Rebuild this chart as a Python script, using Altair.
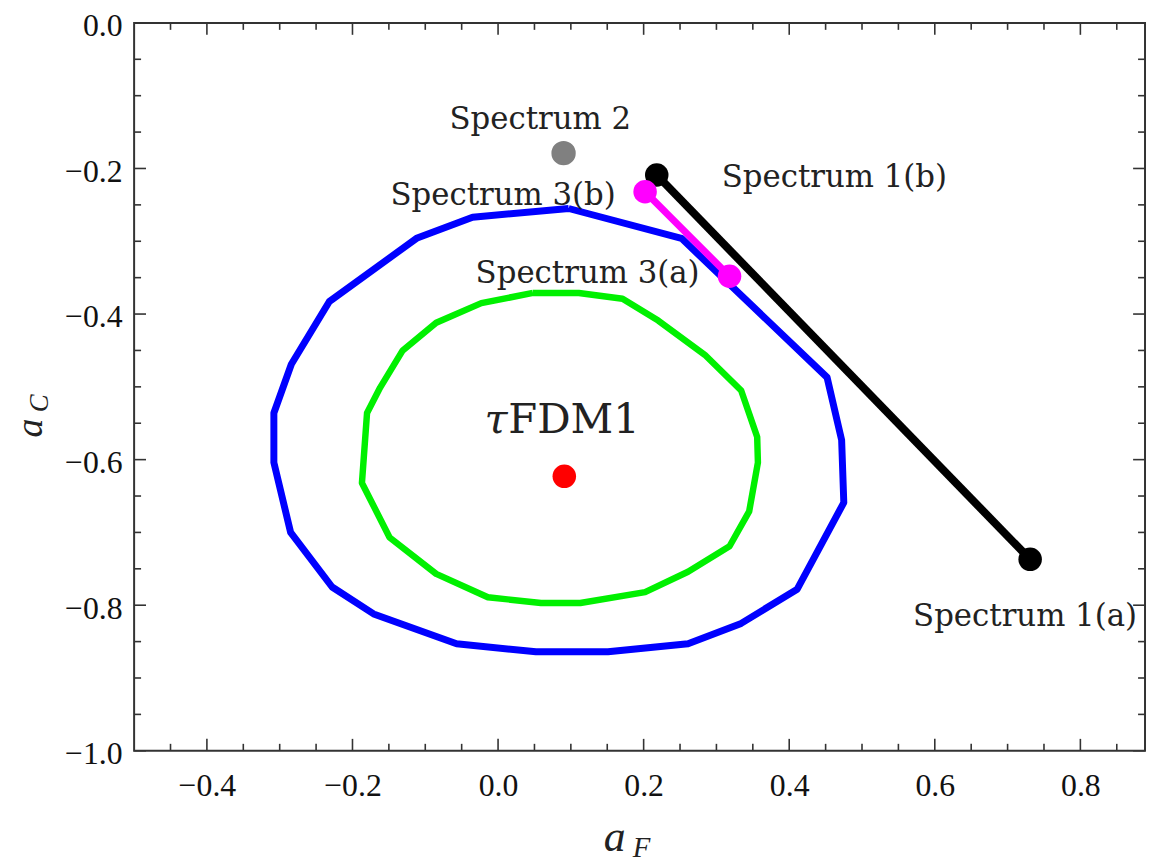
import altair as alt
import pandas as pd

# ---- data ----
blue_x = [0.097, 0.252, 0.452, 0.472, 0.475, 0.411, 0.334, 0.261, 0.151, 0.052,
          -0.057, -0.171, -0.228, -0.285, -0.308, -0.308, -0.284, -0.232, -0.112, -0.035]
blue_y = [-0.255, -0.296, -0.487, -0.573, -0.659, -0.778, -0.825, -0.853, -0.864, -0.864,
          -0.853, -0.812, -0.775, -0.700, -0.604, -0.536, -0.469, -0.383, -0.296, -0.267]

green_x = [0.048, 0.111, 0.171, 0.220, 0.284, 0.334, 0.356, 0.357, 0.345, 0.318, 0.261, 0.202,
           0.113, 0.059, -0.014, -0.085, -0.149, -0.187, -0.180, -0.162, -0.131, -0.085, -0.023]
green_y = [-0.371, -0.371, -0.379, -0.409, -0.456, -0.505, -0.569, -0.604, -0.671, -0.719, -0.754,
           -0.782, -0.797, -0.797, -0.789, -0.757, -0.707, -0.632, -0.536, -0.501, -0.450, -0.412, -0.385]

spec1_x = [0.218, 0.731]
spec1_y = [-0.209, -0.737]
spec3_x = [0.202, 0.318]
spec3_y = [-0.232, -0.348]
spec2_x = [0.090]
spec2_y = [-0.179]
fdm_x = [0.091]
fdm_y = [-0.623]

label_text = ["Spectrum 2", "Spectrum 3(b)", "Spectrum 3(a)", "Spectrum 1(b)", "Spectrum 1(a)"]
label_x = [0.058, 0.007, 0.123, 0.462, 0.724]
label_y = [-0.146, -0.250, -0.357, -0.226, -0.829]

x_major = [-0.4, -0.2, 0.0, 0.2, 0.4, 0.6, 0.8]
y_major = [0.0, -0.2, -0.4, -0.6, -0.8, -1.0]
x_minor = [-0.45, -0.35, -0.3, -0.25, -0.15, -0.1, -0.05, 0.05, 0.1, 0.15, 0.25, 0.3, 0.35,
           0.45, 0.5, 0.55, 0.65, 0.7, 0.75, 0.85]
y_minor = [-0.05, -0.1, -0.15, -0.25, -0.3, -0.35, -0.45, -0.5, -0.55, -0.65, -0.7, -0.75,
           -0.85, -0.9, -0.95]

# ---- layout ----
W, H = 1018, 733
MAJ, MIN = 12, 7
TICK_COLOR = "#333333"

xs = alt.Scale(domain=[-0.5, 0.8888], nice=False, zero=False)
ys = alt.Scale(domain=[-1.0, 0.0], nice=False, zero=False)
xaxis = alt.Axis(values=x_major, format=".1f", title=None, grid=False, ticks=False,
                 tickSize=0, domain=False, labelPadding=20)
yaxis = alt.Axis(values=y_major, format=".1f", title=None, grid=False, ticks=False,
                 tickSize=0, domain=False, labelPadding=12, labelOffset=3)


def X(f="x"):
    return alt.X(f + ":Q", scale=xs, axis=xaxis)


def Y(f="y"):
    return alt.Y(f + ":Q", scale=ys, axis=yaxis)


def loop(xv, yv):
    xx = list(xv) + [xv[0]]
    yy = list(yv) + [yv[0]]
    return pd.DataFrame({"x": xx, "y": yy, "i": list(range(len(xx)))})


blue = alt.Chart(loop(blue_x, blue_y)).mark_line(color="#0000ff", strokeWidth=7, strokeJoin="round").encode(
    x=X(), y=Y(), order="i:Q")
green = alt.Chart(loop(green_x, green_y)).mark_line(color="#00f000", strokeWidth=6.5, strokeJoin="round").encode(
    x=X(), y=Y(), order="i:Q")

s1 = pd.DataFrame({"x": spec1_x, "y": spec1_y, "i": [0, 1]})
s3 = pd.DataFrame({"x": spec3_x, "y": spec3_y, "i": [0, 1]})
s2 = pd.DataFrame({"x": spec2_x, "y": spec2_y})
fd = pd.DataFrame({"x": fdm_x, "y": fdm_y})

s1_line = alt.Chart(s1).mark_line(color="black", strokeWidth=8).encode(x=X(), y=Y(), order="i:Q")
s1_pts = alt.Chart(s1).mark_circle(color="black", size=560, opacity=1).encode(x=X(), y=Y())
s3_line = alt.Chart(s3).mark_line(color="#ff00ff", strokeWidth=7).encode(x=X(), y=Y(), order="i:Q")
s3_pts = alt.Chart(s3).mark_circle(color="#ff00ff", size=560, opacity=1).encode(x=X(), y=Y())
s2_pt = alt.Chart(s2).mark_circle(color="#808080", size=600, opacity=1).encode(x=X(), y=Y())
fd_pt = alt.Chart(fd).mark_circle(color="#ff0000", size=560, opacity=1).encode(x=X(), y=Y())

labels = alt.Chart(pd.DataFrame({"t": label_text, "x": label_x, "y": label_y})).mark_text(
    font="DejaVu Serif", fontSize=31, color="#222222", align="center", baseline="alphabetic"
).encode(x=X(), y=Y(), text="t:N")

tau_label = alt.Chart(pd.DataFrame({"t": ["τ"], "x": [0.013], "y": [-0.563]})).mark_text(
    font="DejaVu Serif", fontSize=42, fontStyle="italic", color="#222222", align="right",
    baseline="alphabetic"
).encode(x=X(), y=Y(), text="t:N")
fdm_label = alt.Chart(pd.DataFrame({"t": ["FDM1"], "x": [0.014], "y": [-0.563]})).mark_text(
    font="DejaVu Serif", fontSize=42, color="#222222", align="left", baseline="alphabetic"
).encode(x=X(), y=Y(), text="t:N")

# ---- inward ticks on all four sides ----
def xticks(vals, length):
    d = pd.DataFrame({"x": vals})
    bot = alt.Chart(d).mark_rule(color=TICK_COLOR, strokeWidth=1.6).encode(
        x=X(), y=alt.value(H), y2=alt.value(H - length))
    top = alt.Chart(d).mark_rule(color=TICK_COLOR, strokeWidth=1.6).encode(
        x=X(), y=alt.value(0), y2=alt.value(length))
    return [bot, top]


def yticks(vals, length):
    d = pd.DataFrame({"y": vals})
    left = alt.Chart(d).mark_rule(color=TICK_COLOR, strokeWidth=1.6).encode(
        y=Y(), x=alt.value(0), x2=alt.value(length))
    right = alt.Chart(d).mark_rule(color=TICK_COLOR, strokeWidth=1.6).encode(
        y=Y(), x=alt.value(W), x2=alt.value(W - length))
    return [left, right]


ticks = xticks(x_major, MAJ) + xticks(x_minor, MIN) + yticks(y_major, MAJ) + yticks(y_minor, MIN)

# ---- axis titles (italic a with subscript) ----
def txt(s, x, y, size, style="italic", angle=0, baseline="alphabetic"):
    return alt.Chart(pd.DataFrame({"t": [s]})).mark_text(
        font="Liberation Serif", fontSize=size, fontStyle=style, color="#222222",
        align="center", baseline=baseline, angle=angle
    ).encode(x=alt.value(x), y=alt.value(y), text="t:N")


titles = [
    txt("a", 484, 834, 44),
    txt("F", 511, 840, 29),
    txt("a", -104, 408, 38, angle=270, baseline="middle"),
    txt("C", -95, 383, 27, angle=270, baseline="middle"),
]

chart = alt.layer(
    blue, green, s1_line, s3_line, s1_pts, s3_pts, s2_pt, fd_pt, labels, tau_label, fdm_label,
    *ticks, *titles
).properties(
    width=W, height=H,
    autosize=alt.AutoSizeParams(type="none"),
    padding={"left": 127, "top": 12, "right": 2, "bottom": 110},
).configure_view(
    stroke="#333333", strokeWidth=2
).configure_axis(
    labelFont="Liberation Serif", labelFontSize=32, labelColor="#111111"
)

chart.save("out.html", embed_options={"renderer": "svg", "actions": False})
